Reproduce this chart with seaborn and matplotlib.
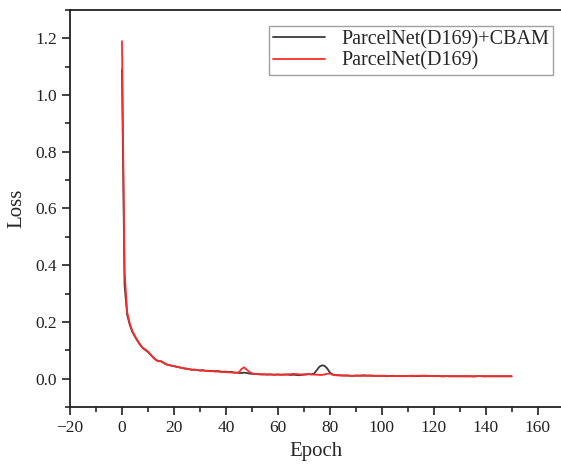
import numpy as np
import pandas as pd
import matplotlib
matplotlib.use("Agg")
import matplotlib.pyplot as plt
import seaborn as sns
from matplotlib.ticker import MultipleLocator

epochs = list(range(151))

loss_cbam = [
    1.090, 0.330, 0.225, 0.190, 0.165, 0.148, 0.133, 0.119, 0.108, 0.101,
    0.094, 0.085, 0.075, 0.067, 0.062, 0.061, 0.056, 0.051, 0.048, 0.046,
    0.044, 0.042, 0.040, 0.038, 0.036, 0.035, 0.033, 0.031, 0.032, 0.030,
    0.029, 0.030, 0.028, 0.028, 0.027, 0.027, 0.026, 0.027, 0.025, 0.024,
    0.025, 0.023, 0.024, 0.022, 0.021, 0.020, 0.020, 0.021, 0.020, 0.018,
    0.017, 0.016, 0.016, 0.015, 0.015, 0.015, 0.014, 0.015, 0.014, 0.014,
    0.015, 0.014, 0.014, 0.015, 0.014, 0.013, 0.014, 0.013, 0.012, 0.013,
    0.014, 0.015, 0.016, 0.015, 0.018, 0.030, 0.042, 0.047, 0.045, 0.036,
    0.022, 0.015, 0.013, 0.012, 0.012, 0.011, 0.011, 0.011, 0.010, 0.010,
    0.011, 0.011, 0.011, 0.012, 0.011, 0.011, 0.011, 0.010, 0.010, 0.010,
    0.010, 0.010, 0.009, 0.009, 0.010, 0.009, 0.009, 0.009, 0.009, 0.009,
    0.009, 0.010, 0.010, 0.009, 0.009, 0.010, 0.010, 0.010, 0.009, 0.009,
    0.009, 0.009, 0.009, 0.008, 0.008, 0.009, 0.008, 0.008, 0.008, 0.008,
    0.008, 0.008, 0.008, 0.008, 0.008, 0.008, 0.008, 0.009, 0.009, 0.008,
    0.008, 0.008, 0.008, 0.008, 0.008, 0.008, 0.008, 0.008, 0.008, 0.008,
    0.008,
]

loss_base = [
    1.190, 0.380, 0.235, 0.195, 0.168, 0.150, 0.135, 0.120, 0.108, 0.103,
    0.095, 0.085, 0.075, 0.066, 0.061, 0.062, 0.056, 0.050, 0.048, 0.046,
    0.044, 0.042, 0.040, 0.038, 0.036, 0.035, 0.033, 0.032, 0.031, 0.030,
    0.029, 0.028, 0.028, 0.027, 0.026, 0.026, 0.025, 0.025, 0.024, 0.023,
    0.023, 0.022, 0.022, 0.021, 0.021, 0.022, 0.034, 0.040, 0.032, 0.024,
    0.019, 0.017, 0.016, 0.016, 0.015, 0.015, 0.015, 0.015, 0.014, 0.014,
    0.014, 0.014, 0.014, 0.014, 0.015, 0.016, 0.017, 0.016, 0.015, 0.015,
    0.015, 0.015, 0.016, 0.015, 0.014, 0.014, 0.013, 0.013, 0.015, 0.017,
    0.018, 0.014, 0.012, 0.012, 0.011, 0.011, 0.011, 0.011, 0.010, 0.010,
    0.010, 0.010, 0.010, 0.010, 0.010, 0.010, 0.010, 0.010, 0.010, 0.010,
    0.010, 0.010, 0.010, 0.009, 0.009, 0.009, 0.009, 0.009, 0.009, 0.009,
    0.009, 0.009, 0.010, 0.010, 0.010, 0.010, 0.010, 0.010, 0.010, 0.009,
    0.009, 0.009, 0.009, 0.009, 0.009, 0.009, 0.009, 0.009, 0.009, 0.009,
    0.009, 0.009, 0.009, 0.009, 0.009, 0.008, 0.008, 0.009, 0.009, 0.009,
    0.009, 0.009, 0.009, 0.009, 0.009, 0.009, 0.009, 0.009, 0.009, 0.009,
    0.009,
]

series_names = ["ParcelNet(D169)+CBAM", "ParcelNet(D169)"]
series_colors = ["#3a3a3a", "#ff2a2a"]

df = pd.DataFrame({
    "Epoch": epochs * 2,
    "Loss": loss_cbam + loss_base,
    "Model": [series_names[0]] * len(epochs) + [series_names[1]] * len(epochs),
})

sns.set_style("ticks")
plt.rcParams["font.family"] = ["Liberation Serif", "DejaVu Serif"]

fig = plt.figure(figsize=(5.61, 4.65), dpi=100)
ax = fig.add_axes([70 / 561, 1 - 407 / 465, 491 / 561, 397 / 465])

sns.lineplot(data=df, x="Epoch", y="Loss", hue="Model",
             palette=dict(zip(series_names, series_colors)),
             linewidth=1.3, ax=ax)

ax.set_xlim(-20, 169)
ax.set_ylim(-0.1, 1.3)
ax.xaxis.set_major_locator(MultipleLocator(20))
ax.xaxis.set_minor_locator(MultipleLocator(10))
ax.yaxis.set_major_locator(MultipleLocator(0.2))
ax.yaxis.set_minor_locator(MultipleLocator(0.1))
ax.yaxis.set_major_formatter(matplotlib.ticker.FormatStrFormatter("%.1f"))
ax.tick_params(axis="both", which="major", direction="out", length=6, width=1.2,
               labelsize=12.5, colors="#222222")
ax.tick_params(axis="both", which="minor", direction="out", length=3.5, width=1.2)
for s in ["left", "bottom", "top"]:
    ax.spines[s].set_linewidth(1.3)
    ax.spines[s].set_color("#222222")
ax.spines["right"].set_visible(False)

ax.set_xlabel("Epoch", fontsize=15, labelpad=4)
ax.set_ylabel("Loss", fontsize=15, labelpad=6)

leg = ax.legend(loc="upper right", bbox_to_anchor=(1.005, 0.985), fontsize=14.5,
                frameon=True, fancybox=False, edgecolor="#888888",
                handlelength=2.6, borderpad=0.2, labelspacing=0.12,
                handletextpad=0.8, title=None)
leg.get_frame().set_linewidth(1.0)

fig.savefig("out.png", dpi=100)
